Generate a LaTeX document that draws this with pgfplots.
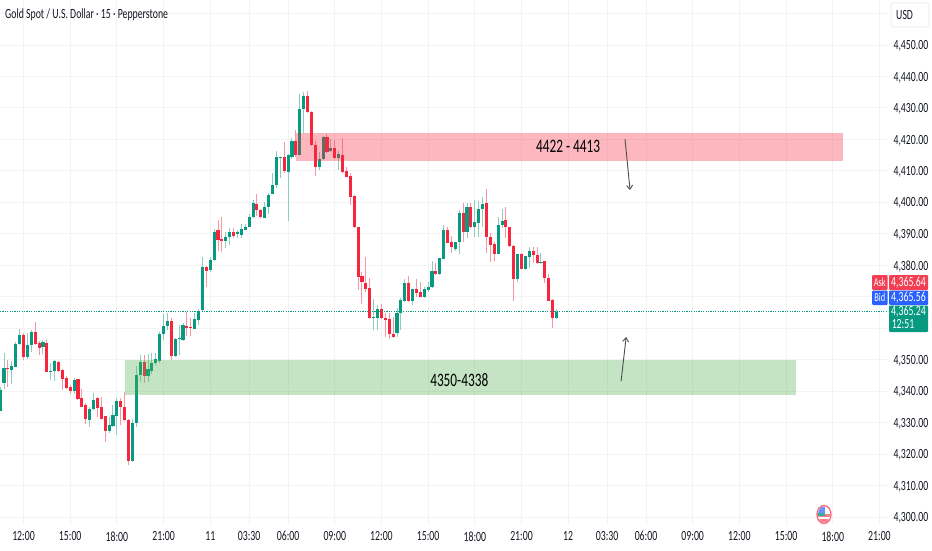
\documentclass[border=0pt]{standalone}
\usepackage{pgfplots}
\usepackage{pgfplotstable}
\usepackage{fontspec}
\usetikzlibrary{arrows.meta}
\pgfplotsset{compat=1.18}
\setmainfont[FakeStretch=0.7]{Carlito}
\definecolor{up}{HTML}{089981}
\definecolor{dn}{HTML}{F7263F}
\definecolor{upw}{HTML}{8CCDC0}
\definecolor{dnw}{HTML}{FA96A2}
\definecolor{gridc}{HTML}{F3F3F3}
\definecolor{txt}{HTML}{131722}
\definecolor{askc}{HTML}{F23F53}
\definecolor{bidc}{HTML}{2962FF}
\pgfplotstableread{
i t b h l
0 4340.4 4333.8 4341.4 4333.8
1 4347.2 4342.7 4352.0 4340.6
3 4348.0 4346.8 4349.7 4342.3
4 4355.0 4347.8 4355.7 4347.8
5 4357.8 4355.0 4359.7 4354.7
7 4354.7 4350.9 4358.6 4350.2
8 4358.9 4354.5 4359.4 4352.5
11 4355.6 4353.9 4356.2 4351.8
13 4346.5 4346.1 4348.8 4343.5
14 4349.7 4346.4 4349.9 4343.3
19 4343.4 4340.1 4344.1 4339.1
23 4334.2 4330.9 4334.8 4328.5
24 4337.3 4334.3 4339.3 4334.0
28 4329.1 4327.4 4331.9 4326.6
29 4332.4 4328.9 4335.6 4328.7
30 4336.9 4332.1 4337.7 4326.2
34 4329.9 4317.7 4331.0 4317.5
35 4345.1 4330.0 4348.0 4328.5
36 4349.4 4345.1 4351.5 4343.0
38 4346.9 4344.8 4351.8 4343.0
39 4349.0 4346.5 4352.0 4345.4
40 4350.1 4348.8 4352.0 4348.3
41 4358.1 4349.7 4358.9 4348.8
42 4360.8 4358.1 4364.5 4356.2
43 4362.3 4360.8 4364.7 4359.4
45 4356.5 4351.3 4356.8 4350.9
46 4356.9 4356.6 4361.0 4351.4
47 4360.9 4356.3 4361.5 4356.0
50 4362.9 4359.7 4364.9 4359.6
51 4365.6 4362.7 4366.0 4361.0
52 4379.5 4365.7 4382.7 4365.5
54 4381.7 4378.5 4382.7 4378.0
55 4390.7 4381.7 4391.5 4381.3
58 4389.0 4387.7 4390.7 4385.4
59 4390.5 4389.0 4391.7 4386.4
61 4390.6 4389.8 4391.1 4388.5
62 4391.4 4389.7 4393.2 4388.5
63 4392.3 4391.3 4393.2 4391.1
64 4395.4 4392.2 4396.4 4392.1
65 4399.8 4395.3 4400.6 4395.0
68 4398.6 4395.1 4400.1 4395.0
69 4402.4 4398.5 4403.1 4396.4
70 4405.6 4402.7 4409.4 4402.5
71 4414.4 4405.4 4416.4 4404.7
72 4414.5 4414.2 4414.5 4407.8
74 4414.9 4409.7 4415.3 4394.0
75 4419.6 4414.4 4420.5 4413.9
77 4429.8 4414.9 4434.5 4414.9
78 4433.8 4429.8 4434.9 4422.0
82 4413.7 4411.1 4416.0 4410.2
83 4420.8 4413.7 4421.0 4413.4
85 4417.3 4416.2 4420.2 4416.0
87 4415.5 4414.0 4416.3 4410.4
96 4363.6 4363.3 4369.2 4359.4
97 4366.1 4363.2 4367.4 4359.4
102 4364.8 4358.6 4366.3 4357.1
103 4369.0 4364.7 4369.5 4359.4
104 4374.2 4368.7 4375.5 4368.4
106 4372.3 4368.5 4372.6 4367.4
109 4372.3 4370.0 4373.2 4369.7
110 4373.2 4372.1 4374.8 4371.6
111 4378.3 4373.0 4381.5 4372.8
113 4382.2 4377.2 4382.2 4377.0
114 4391.2 4382.1 4392.8 4381.9
117 4387.4 4385.3 4387.5 4384.6
118 4396.6 4387.4 4397.5 4383.6
120 4398.4 4390.7 4399.7 4388.5
122 4393.6 4392.0 4400.7 4389.1
123 4397.8 4393.3 4400.5 4388.9
124 4399.4 4397.8 4401.8 4392.3
128 4392.8 4383.7 4395.2 4383.6
129 4394.0 4392.8 4397.8 4391.7
133 4383.6 4375.5 4383.6 4374.8
135 4382.8 4378.7 4383.0 4378.5
136 4384.5 4382.6 4385.7 4379.0
139 4381.0 4380.7 4384.0 4380.4
143 4365.2 4363.2 4366.0 4362.9
}\upcandles
\pgfplotstableread{
i t b h l
2 4347.4 4347.1 4349.9 4341.4
6 4357.8 4350.8 4358.4 4349.9
9 4358.9 4355.0 4361.9 4354.7
10 4355.3 4353.7 4356.0 4351.5
12 4355.3 4346.0 4356.4 4346.0
15 4349.4 4346.4 4349.7 4346.0
16 4346.7 4343.8 4346.9 4340.4
17 4344.3 4341.1 4344.8 4340.8
18 4341.3 4340.1 4341.9 4339.1
20 4343.7 4337.4 4343.9 4337.2
21 4337.8 4335.0 4340.7 4334.8
22 4335.6 4331.0 4336.3 4329.4
25 4337.7 4334.7 4338.2 4331.9
26 4334.9 4331.3 4338.0 4331.1
27 4332.0 4327.4 4332.2 4323.9
31 4336.9 4335.1 4337.7 4329.2
32 4334.9 4330.8 4339.8 4330.5
33 4330.8 4317.7 4331.0 4316.6
37 4349.4 4344.9 4351.5 4342.5
44 4362.4 4351.3 4363.1 4349.9
48 4360.7 4360.1 4365.2 4357.5
49 4360.5 4360.2 4363.1 4357.5
53 4379.5 4378.2 4379.9 4373.2
56 4391.2 4387.9 4394.4 4384.5
57 4388.3 4387.6 4395.4 4384.3
60 4390.5 4389.3 4391.7 4388.5
66 4399.3 4397.4 4402.6 4395.7
67 4397.5 4395.4 4397.8 4395.0
73 4414.3 4409.8 4419.2 4409.4
76 4419.5 4415.1 4422.9 4414.4
79 4433.8 4428.6 4435.3 4428.4
80 4428.7 4418.1 4429.1 4417.9
81 4418.3 4411.1 4419.4 4408.4
84 4420.6 4415.9 4421.8 4415.8
86 4417.3 4414.2 4419.7 4413.9
88 4415.0 4409.5 4420.3 4409.2
89 4409.8 4408.1 4411.3 4407.9
90 4408.5 4401.8 4409.2 4399.2
91 4402.0 4392.0 4402.2 4391.7
92 4392.1 4376.4 4392.3 4372.1
93 4376.6 4374.7 4378.0 4367.7
94 4374.4 4372.5 4382.5 4371.4
95 4372.7 4363.1 4375.8 4362.8
98 4366.1 4363.1 4367.7 4362.9
99 4363.1 4362.7 4364.7 4357.3
100 4363.0 4358.0 4364.9 4356.5
101 4358.2 4357.3 4363.6 4356.8
105 4374.2 4368.5 4376.6 4368.3
107 4372.3 4371.3 4375.5 4370.0
108 4371.4 4370.0 4374.6 4369.8
112 4378.1 4377.2 4380.6 4377.0
115 4391.2 4387.1 4392.0 4387.0
116 4387.5 4385.7 4389.3 4384.0
119 4396.6 4390.7 4399.7 4387.5
121 4398.4 4392.0 4399.9 4391.7
125 4399.7 4389.0 4404.1 4383.8
126 4389.1 4386.4 4390.1 4380.9
127 4386.7 4383.7 4387.5 4381.4
130 4394.3 4392.0 4398.4 4388.5
131 4392.1 4386.0 4392.3 4385.7
132 4386.2 4375.5 4386.4 4368.7
134 4383.6 4378.8 4383.8 4378.7
137 4384.5 4383.1 4385.7 4380.6
138 4383.1 4380.7 4385.7 4380.4
140 4381.3 4375.8 4381.5 4374.3
141 4375.8 4368.7 4377.2 4368.5
142 4369.0 4363.2 4369.2 4360.0
}\dncandles
\newcommand{\tickfont}{\fontsize{14}{15}\selectfont\color{txt}}
\pgfplotsset{
  wick/.style={draw=none, mark=none, forget plot,
    error bars/.cd, y dir=both, y explicit, error mark=none,
    error bar style={draw=#1, line width=1pt}},
  body/.style={draw=none, mark=none, forget plot,
    error bars/.cd, y dir=minus, y explicit, error mark=none,
    error bar style={draw=#1, line width=3.1pt}},
}
\begin{document}
\begin{tikzpicture}[x=1pt,y=1pt]
\path[use as bounding box, fill=white] (0pt,0pt) rectangle (932pt,550pt);
\begin{axis}[
  at={(0pt,25pt)}, anchor=south west, scale only axis,
  width=888pt, height=525pt,
  xmin=-0.041, xmax=228.2, ymin=4297.46, ymax=4464.28,
  axis line style={draw=none},
  major tick length=0pt,
  grid=major,
  grid style={draw=gridc, line width=0.8pt},
  xtick={6,18,30,42,54,64,74,86,98,110,122,134,146,156,166,178,190,202,214,226},
  xticklabels={12:00,15:00,18:00,21:00,11,03:30,06:00,09:00,12:00,15:00,18:00,21:00,12,03:30,06:00,09:00,12:00,15:00,18:00,21:00},
  xticklabel style={font=\tickfont, yshift=-3pt},
  ytick={4300,4310,...,4460},
  yticklabels={{4,300.00},{4,310.00},{4,320.00},{4,330.00},{4,340.00},{4,350.00},,,{4,380.00},{4,390.00},{4,400.00},{4,410.00},{4,420.00},{4,430.00},{4,440.00},{4,450.00},},
  yticklabel pos=right,
  yticklabel style={font=\tickfont, anchor=west, xshift=2pt, yshift=-1pt},
]
\addplot[wick=upw] table[x=i, y=t, y error plus expr=\thisrow{h}-\thisrow{t}, y error minus expr=\thisrow{t}-\thisrow{l}] {\upcandles};
\addplot[wick=dnw] table[x=i, y=t, y error plus expr=\thisrow{h}-\thisrow{t}, y error minus expr=\thisrow{t}-\thisrow{l}] {\dncandles};
\addplot[body=up] table[x=i, y=t, y error minus expr=\thisrow{t}-\thisrow{b}] {\upcandles};
\addplot[body=dn] table[x=i, y=t, y error minus expr=\thisrow{t}-\thisrow{b}] {\dncandles};
\addplot[fill=dn, fill opacity=0.33, draw=none, forget plot] coordinates {(76,4413)(76,4422)(216.7,4422)(216.7,4413)} --cycle;
\addplot[fill=green!55!black!70, fill opacity=0.33, draw=none, forget plot] coordinates {(32,4338.7)(32,4350)(204.6,4350)(204.6,4338.7)} --cycle;
\addplot[up, dash pattern=on 1.2pt off 1.2pt, line width=1pt, forget plot] coordinates {(-0.041,4365.24)(228.2,4365.24)};
\node[font=\fontsize{19}{20}\selectfont\color{black}] at (axis cs:146,4417.8) {4422 - 4413};
\node[font=\fontsize{19}{20}\selectfont\color{black}] at (axis cs:118,4343.4) {4350-4338};
\draw[-{Straight Barb[length=4pt,width=6pt]}, draw=black!70, line width=0.9pt] (axis cs:160.6,4420.1) -- (axis cs:161.9,4403.9);
\draw[-{Straight Barb[length=4pt,width=6pt]}, draw=black!70, line width=0.9pt] (axis cs:159.6,4343.2) -- (axis cs:160.9,4357.2);
\end{axis}
% header
\node[anchor=west, inner sep=0pt, font=\fontsize{14}{15}\selectfont\color{txt}] at (5pt,535pt) {Gold Spot / U.S. Dollar · 15 · Pepperstone};
\draw[draw=black!8, fill=white, rounded corners=2pt, line width=0.8pt] (891pt,523pt) rectangle (929pt,547pt);
\node[anchor=west, inner sep=0pt, font=\tickfont] at (896pt,535pt) {USD};
% price tags
\fill[askc, rounded corners=1pt] (872pt,260pt) rectangle (887.7pt,275pt);
\fill[askc, rounded corners=1pt] (889pt,260pt) rectangle (928pt,275pt);
\fill[bidc, rounded corners=1pt] (872pt,245pt) rectangle (887.7pt,259.5pt);
\fill[bidc, rounded corners=1pt] (889pt,245pt) rectangle (928pt,259.5pt);
\fill[up, rounded corners=1pt] (889pt,218pt) rectangle (928pt,244.5pt);
\node[inner sep=0pt, text=white, font=\fontsize{12}{13}\selectfont] at (879.8pt,267.5pt) {Ask};
\node[inner sep=0pt, text=white, font=\fontsize{12}{13}\selectfont] at (879.8pt,252.2pt) {Bid};
\node[inner sep=0pt, font=\fontsize{14}{14}\selectfont\color{white}] at (908.5pt,267.5pt) {4,365.64};
\node[inner sep=0pt, font=\fontsize{14}{14}\selectfont\color{white}] at (908.5pt,252.2pt) {4,365.56};
\node[inner sep=0pt, font=\fontsize{14}{14}\selectfont\color{white}] at (908.5pt,238pt) {4,365.24};
\node[inner sep=0pt, font=\fontsize{14}{14}\selectfont\color{white}] at (903pt,226pt) {12:51};
% flag
\fill[white] (824pt,35.5pt) ellipse (7.5pt and 9.5pt);
\draw[draw=dn!65, line width=1.4pt] (824pt,35.5pt) ellipse (7pt and 9pt);
\begin{scope}
\clip (824pt,35.5pt) ellipse (6pt and 8pt);
\fill[dn!60] (817pt,27pt) rectangle (831pt,31pt);
\fill[dn!60] (817pt,33pt) rectangle (831pt,36pt);
\fill[up!80] (817pt,34pt) rectangle (825pt,37pt);
\fill[bidc!70] (817pt,37pt) rectangle (825pt,44pt);
\end{scope}
\end{tikzpicture}
\end{document}
